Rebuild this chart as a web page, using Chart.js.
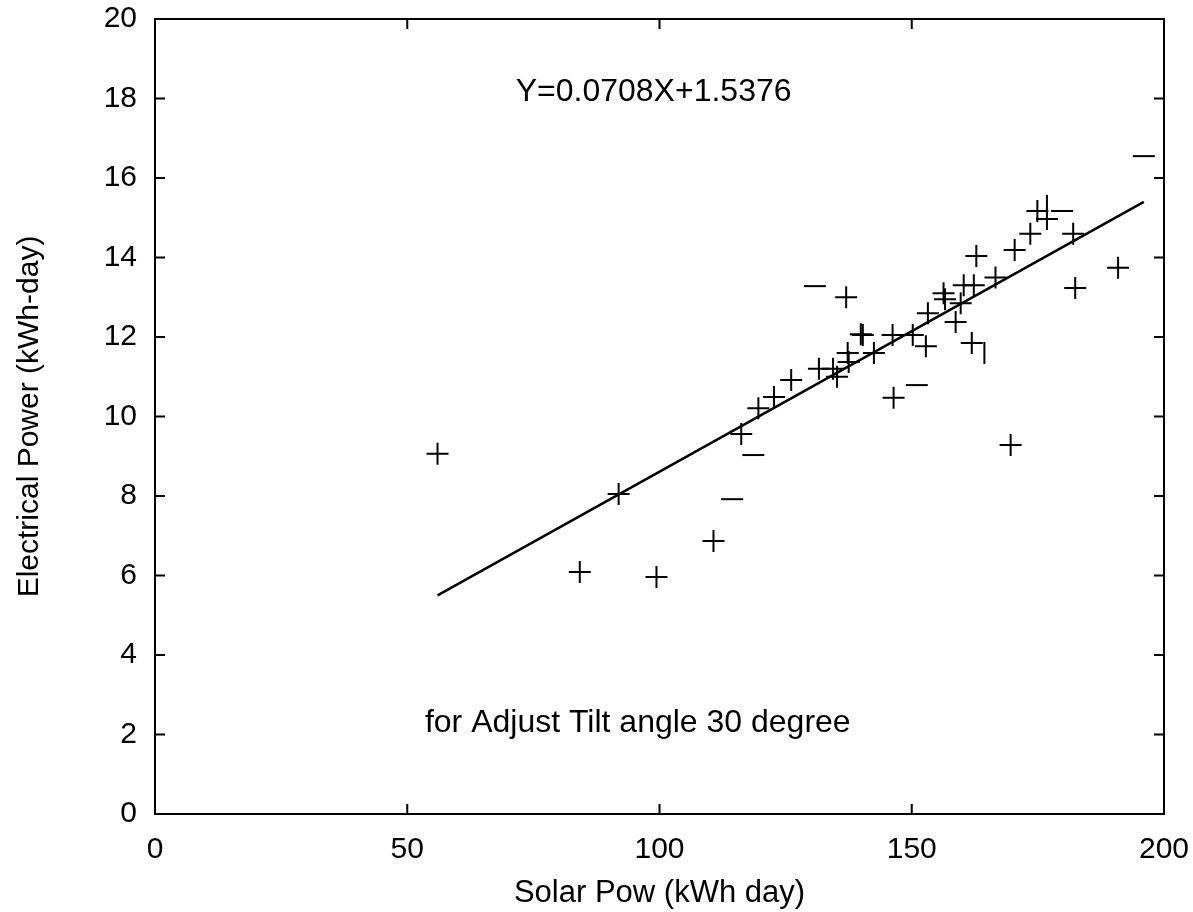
<!DOCTYPE html>
<html>
<head>
<meta charset="utf-8">
<script src="https://cdn.jsdelivr.net/npm/chart.js@4.4.1/dist/chart.umd.min.js"></script>
<style>
  html, body { margin: 0; padding: 0; background: #fff; }
  #wrap { width: 1193px; height: 912px; }
</style>
</head>
<body>
<div id="wrap"><canvas id="chart" width="1193" height="912"></canvas></div>
<script>
// daily measurements, drawn as "+" markers
const plusX = [56, 84.2, 91.9, 99.4, 110.7, 116.2, 119.6, 122.7, 126.1, 131.6, 134.4, 135.2,
  137.3, 137.5, 137, 139.9, 140.3, 142.5, 146.2, 146.4, 150.2, 152.8, 153.2, 156.3, 156.6,
  158.7, 159.7, 160.3, 162.3, 161.9, 162.8, 166.6, 169.6, 170.4, 173.5, 174.9, 176.8, 182,
  182.4, 190.9];
const plusY = [9.06, 6.09, 8.05, 5.96, 6.87, 9.56, 10.21, 10.49, 10.92, 11.2, 11.2, 11.0,
  11.6, 11.37, 13.0, 12.07, 12.05, 11.6, 12.05, 10.47, 12.05, 11.77, 12.6, 13.1, 12.95,
  12.38, 12.85, 13.3, 13.3, 11.85, 14.04, 13.5, 9.28, 14.19, 14.6, 15.17, 14.97, 14.6,
  13.23, 13.74];

// points whose marker only shows its horizontal stroke
const dashX = [114.4, 118.6, 130.8, 151, 179.8, 196];
const dashY = [7.92, 9.03, 13.28, 10.79, 15.17, 16.55];

// points whose marker only shows its vertical stroke
const barX = [164.4, 176.8];
const barY = [11.6, 15.3];

// fitted line Y=0.0708X+1.5376, end points
const fitX = [56, 196];
const fitY = [5.5, 15.4];

const xTicks = [0, 50, 100, 150, 200];
const yTicks = [0, 2, 4, 6, 8, 10, 12, 14, 16, 18, 20];

const FONT = '"Liberation Sans", Arial, sans-serif';

const toPts = (xs, ys) => xs.map((x, i) => ({ x: x, y: ys[i] }));

// matlab-like frame: box with inward ticks on all four sides, plus the two notes
const framePlugin = {
  id: 'frame',
  afterDraw(chart) {
    const { ctx, chartArea: a, scales: { x, y } } = chart;
    const len = 10;
    ctx.save();
    ctx.strokeStyle = '#000';
    ctx.lineWidth = 2;
    ctx.strokeRect(a.left, a.top, a.right - a.left, a.bottom - a.top);
    ctx.beginPath();
    xTicks.forEach(v => {
      const px = x.getPixelForValue(v);
      ctx.moveTo(px, a.bottom); ctx.lineTo(px, a.bottom - len);
      ctx.moveTo(px, a.top); ctx.lineTo(px, a.top + len);
    });
    yTicks.forEach(v => {
      const py = y.getPixelForValue(v);
      ctx.moveTo(a.left, py); ctx.lineTo(a.left + len, py);
      ctx.moveTo(a.right, py); ctx.lineTo(a.right - len, py);
    });
    ctx.stroke();

    ctx.fillStyle = '#000';
    ctx.font = '32px ' + FONT;
    ctx.textAlign = 'left';
    ctx.textBaseline = 'middle';
    ctx.fillText('Y=0.0708X+1.5376', x.getPixelForValue(71.5), y.getPixelForValue(18.16));
    ctx.fillText('for Adjust Tilt angle 30 degree', x.getPixelForValue(53.5), y.getPixelForValue(2.29));
    ctx.restore();
  }
};

new Chart(document.getElementById('chart'), {
  type: 'scatter',
  data: {
    datasets: [
      {
        type: 'line',
        data: toPts(fitX, fitY),
        borderColor: '#000',
        borderWidth: 2.5,
        pointRadius: 0,
        fill: false,
        tension: 0
      },
      {
        data: toPts(plusX, plusY),
        pointStyle: 'cross',
        pointRadius: 11,
        borderColor: '#000',
        borderWidth: 2
      },
      {
        data: toPts(dashX, dashY),
        pointStyle: 'line',
        pointRadius: 11,
        borderColor: '#000',
        borderWidth: 2
      },
      {
        data: toPts(barX, barY),
        pointStyle: 'line',
        rotation: 90,
        pointRadius: 11,
        borderColor: '#000',
        borderWidth: 2
      }
    ]
  },
  options: {
    responsive: false,
    animation: false,
    layout: { padding: { top: 19, right: 29, left: 0, bottom: 0 } },
    plugins: {
      legend: { display: false },
      tooltip: { enabled: false }
    },
    scales: {
      x: {
        type: 'linear',
        min: 0,
        max: 200,
        afterBuildTicks: s => { s.ticks = xTicks.map(v => ({ value: v })); },
        afterFit: s => { s.height = 98; s.paddingLeft = 0; s.paddingRight = 0; },
        grid: { display: false },
        border: { display: false },
        ticks: { color: '#000', font: { family: FONT, size: 30 }, padding: 10, maxRotation: 0 },
        title: {
          display: true,
          text: 'Solar Pow (kWh day)',
          color: '#000',
          font: { family: FONT, size: 31 },
          padding: { top: 0, bottom: 0 }
        }
      },
      y: {
        type: 'linear',
        min: 0,
        max: 20,
        afterBuildTicks: s => { s.ticks = yTicks.map(v => ({ value: v })); },
        afterFit: s => { s.width = 155; s.paddingTop = 0; s.paddingBottom = 0; },
        grid: { display: false },
        border: { display: false },
        ticks: { color: '#000', font: { family: FONT, size: 30 }, padding: 10 },
        title: {
          display: true,
          text: 'Electrical Power (kWh-day)',
          color: '#000',
          font: { family: FONT, size: 30 },
          padding: { top: 12, bottom: 0 }
        }
      }
    }
  },
  plugins: [framePlugin]
});
</script>
</body>
</html>
